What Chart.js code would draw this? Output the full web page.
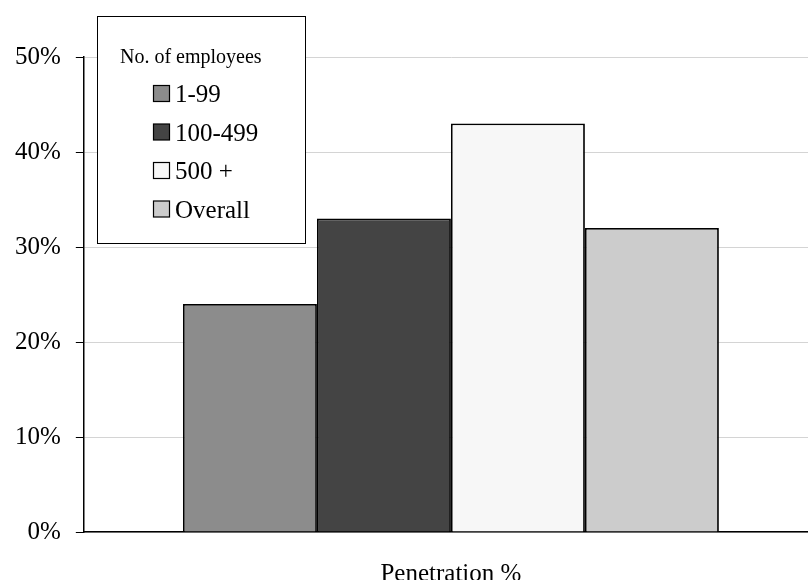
<!DOCTYPE html>
<html>
<head>
<meta charset="utf-8">
<script src="https://cdn.jsdelivr.net/npm/chart.js@4/dist/chart.umd.min.js"></script>
<style>
  html, body { margin: 0; padding: 0; background: #fff; overflow: hidden; }
  #wrap { width: 808px; height: 580px; overflow: hidden; }
  #c { display: block; }
</style>
</head>
<body>
<div id="wrap"><canvas id="c" width="818" height="580"></canvas></div>
<script>
// Penetration by company size
const categories = ['Penetration %'];
const seriesNames = ['1-99', '100-499', '500 +', 'Overall'];
const seriesValues = [24, 33, 43, 32];
const seriesColors = ['#8c8c8c', '#444444', '#f7f7f7', '#cccccc'];
const yTicks = [0, 10, 20, 30, 40, 50];
const legendTitle = 'No. of employees';

const FONT = '"Liberation Serif", "Times New Roman", serif';

const datasets = seriesNames.map((name, i) => ({
  label: name,
  data: [seriesValues[i]],
  backgroundColor: seriesColors[i],
  borderColor: '#000',
  borderWidth: 1.8,
  barPercentage: 1.0,
  categoryPercentage: 0.73
}));

// Boxed legend drawn inside the plot, upper left
const boxLegend = {
  id: 'boxLegend',
  afterDraw(chart) {
    const ctx = chart.ctx;
    const x0 = 97.5, y0 = 16.5, w = 208, h = 227;
    ctx.save();
    ctx.fillStyle = '#fff';
    ctx.fillRect(x0, y0, w, h);
    ctx.strokeStyle = '#000';
    ctx.lineWidth = 1;
    ctx.strokeRect(x0, y0, w, h);

    ctx.fillStyle = '#000';
    ctx.textBaseline = 'alphabetic';
    ctx.textAlign = 'left';
    ctx.font = '20px ' + FONT;
    ctx.fillText(legendTitle, 120, 63);

    ctx.font = '25px ' + FONT;
    chart.data.datasets.forEach((ds, i) => {
      const cy = 93.5 + i * 38.5;
      ctx.fillStyle = ds.backgroundColor;
      ctx.fillRect(153.5, cy - 8, 16, 16);
      ctx.strokeStyle = '#000';
      ctx.lineWidth = 1.2;
      ctx.strokeRect(153.5, cy - 8, 16, 16);
      ctx.fillStyle = '#000';
      ctx.fillText(ds.label, 175, cy + 8.5);
    });
    ctx.restore();
  }
};

new Chart(document.getElementById('c'), {
  type: 'bar',
  data: { labels: categories, datasets },
  options: {
    responsive: false,
    animation: false,
    layout: { padding: { top: 57, right: 0, left: 0, bottom: 0 } },
    plugins: {
      legend: { display: false },
      tooltip: { enabled: false }
    },
    scales: {
      x: {
        grid: { display: false },
        border: { display: true, color: '#000', width: 1.5 },
        ticks: { display: false },
        title: {
          display: true,
          text: categories[0],
          color: '#000',
          font: { family: FONT, size: 25 },
          padding: { top: 19, bottom: -9 }
        }
      },
      y: {
        min: 0,
        max: 50,
        afterBuildTicks(axis) { axis.ticks = yTicks.map(v => ({ value: v })); },
        grid: {
          color: '#d4d4d4',
          lineWidth: 1,
          drawTicks: true,
          tickLength: 8,
          tickColor: '#000'
        },
        border: { display: true, color: '#000', width: 1.5 },
        ticks: {
          color: '#000',
          padding: 15,
          font: { family: FONT, size: 25 },
          callback: v => v + '%'
        }
      }
    }
  },
  plugins: [boxLegend]
});
</script>
</body>
</html>
